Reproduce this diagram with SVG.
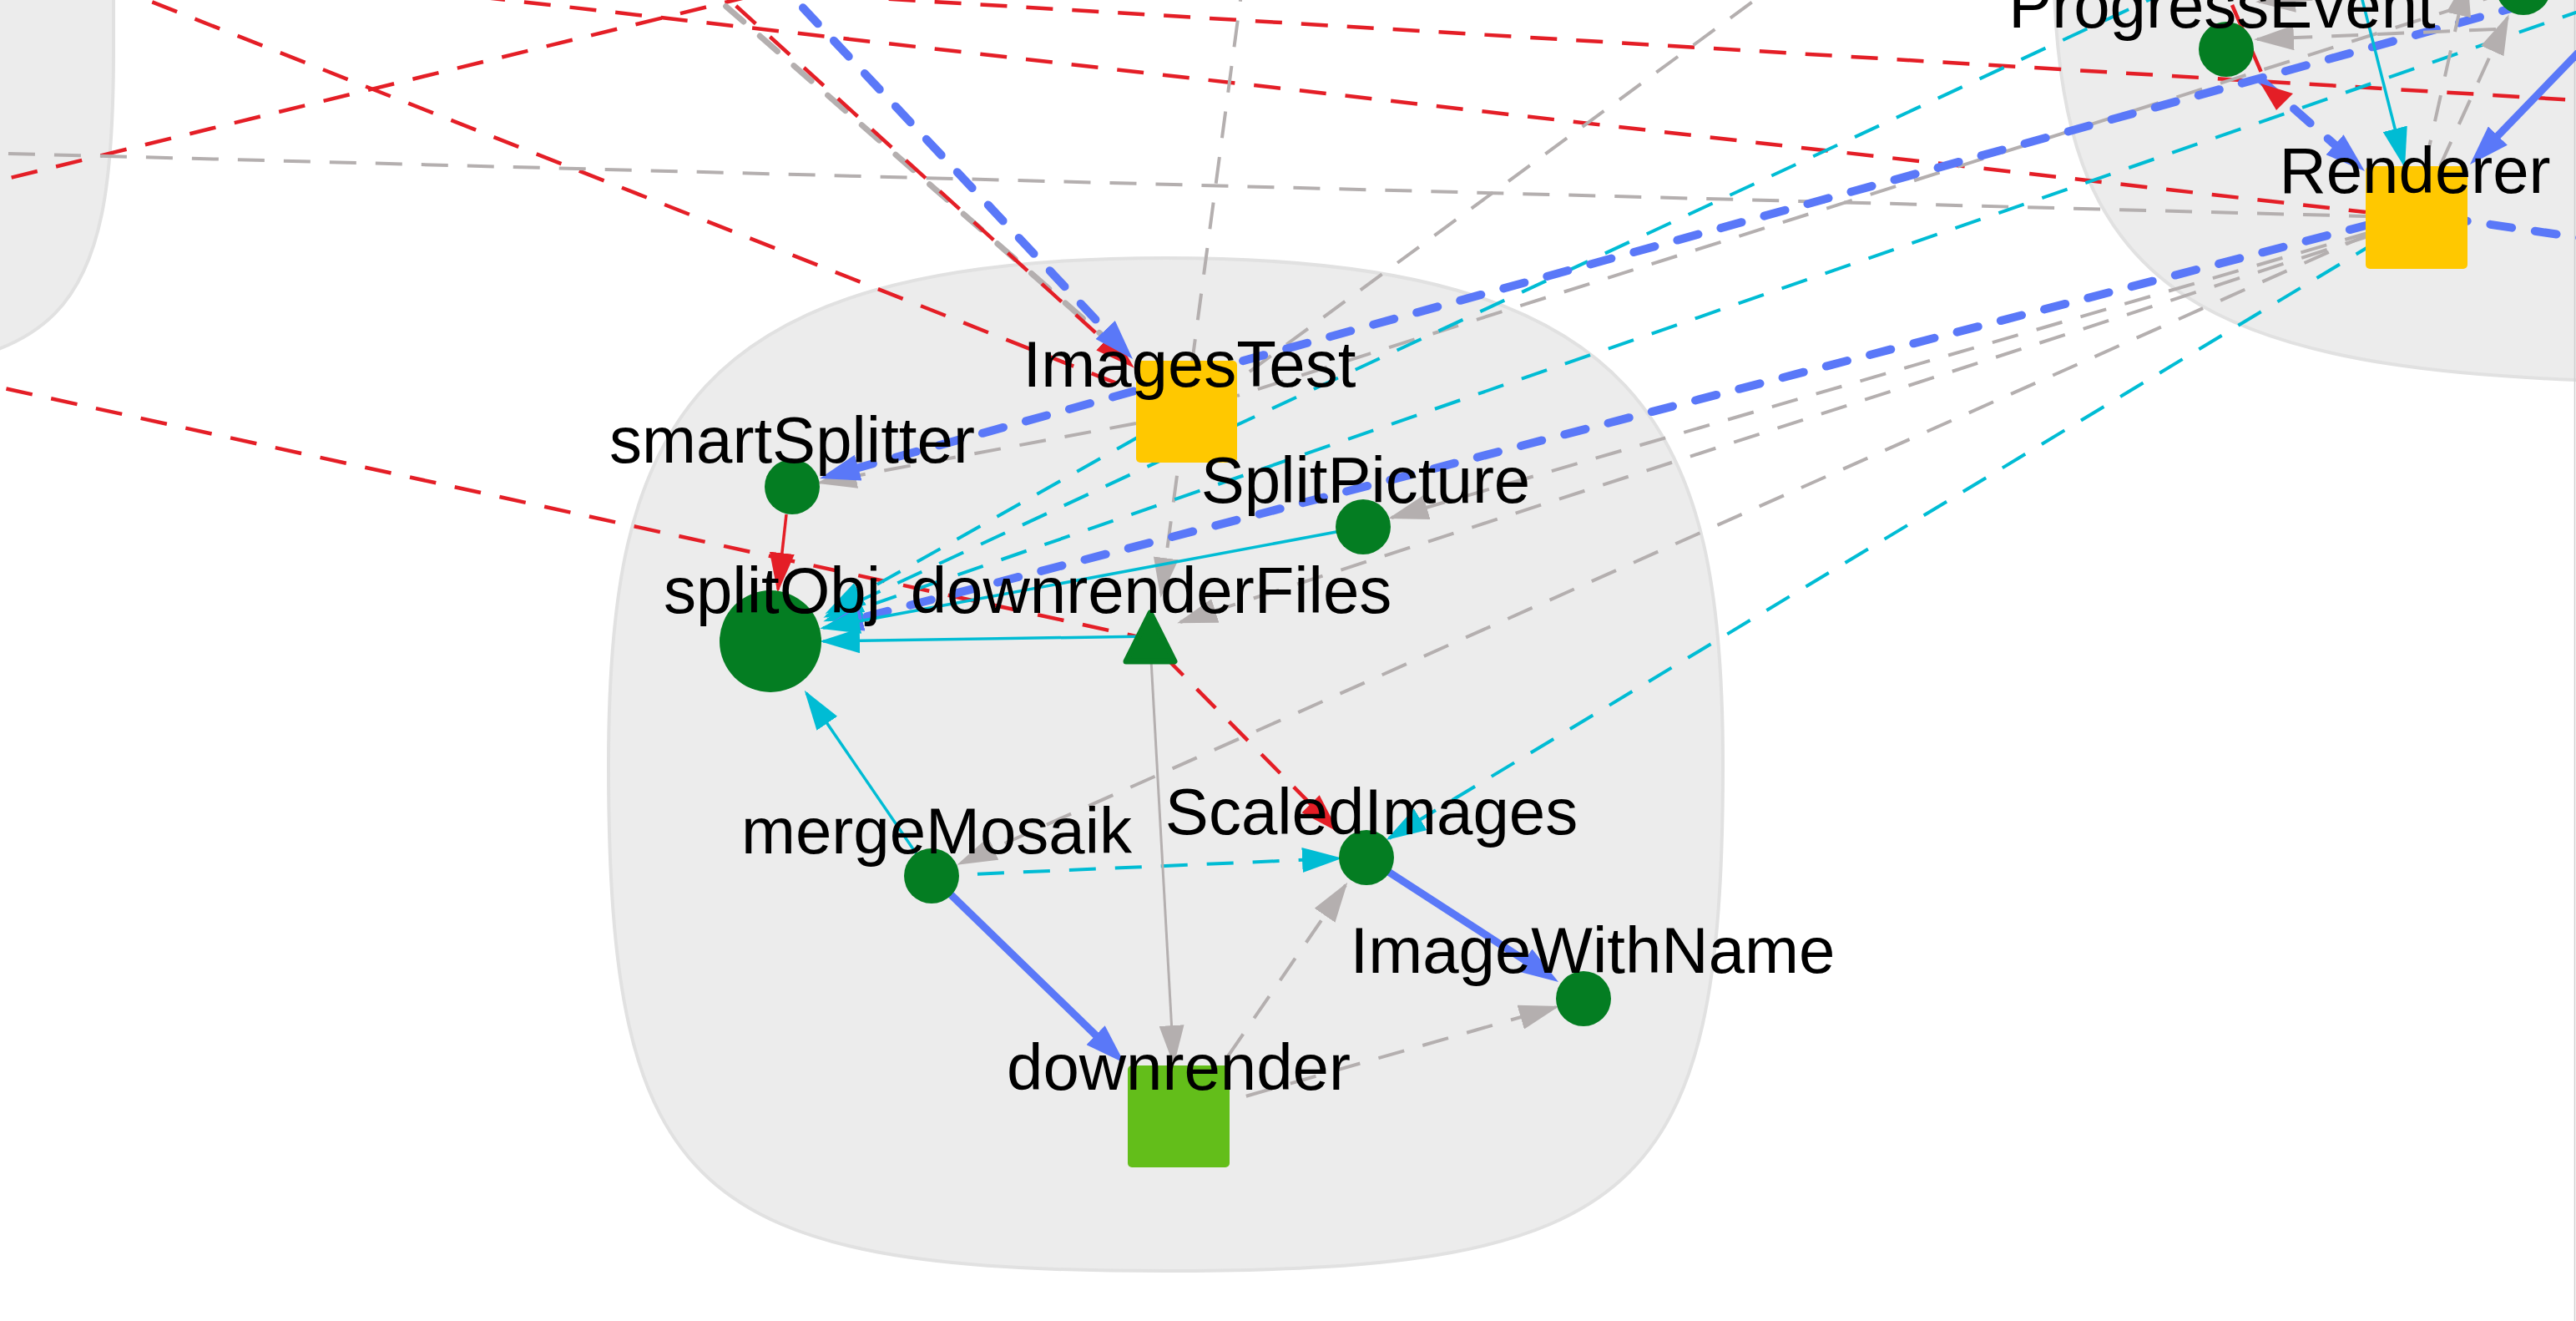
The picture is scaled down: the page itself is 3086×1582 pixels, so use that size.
<svg xmlns="http://www.w3.org/2000/svg" width="3086" height="1582" viewBox="0 0 3086 1582">
<defs>
<style>
.cl{fill:#ececec;stroke:#e1e1e1;stroke-width:4}
.e{fill:none}
.rd{stroke:#e41e26;stroke-width:4.5;stroke-dasharray:32 23}
.rs{stroke:#e41e26;stroke-width:3.5}
.gd{stroke:#b4afaf;stroke-width:4;stroke-dasharray:32 23}
.gs{stroke:#b4afaf;stroke-width:3}
.gt{stroke:#b4afaf;stroke-width:7;stroke-dasharray:28 26;stroke-linecap:round}
.cd{stroke:#00bcd4;stroke-width:4;stroke-dasharray:32 23}
.cs{stroke:#00bcd4;stroke-width:3.5}
.bd{stroke:#5a78f8;stroke-width:10;stroke-dasharray:26 28;stroke-linecap:round}
.bs{stroke:#5a78f8;stroke-width:9}
.g{fill:#047d22}
.lg{fill:#63be1a}
.y{fill:#ffc800}
text{font-family:"Liberation Sans",Arial,sans-serif;font-size:78px;fill:#000;text-anchor:middle}
</style>
<marker id="mr" viewBox="0 0 48 30" refX="44" refY="15" markerWidth="48" markerHeight="30" markerUnits="userSpaceOnUse" orient="auto"><path d="M0,0L48,15L0,30z" fill="#e41e26"/></marker>
<marker id="mg" viewBox="0 0 48 30" refX="44" refY="15" markerWidth="48" markerHeight="30" markerUnits="userSpaceOnUse" orient="auto"><path d="M0,0L48,15L0,30z" fill="#b4afaf"/></marker>
<marker id="mc" viewBox="0 0 48 30" refX="44" refY="15" markerWidth="48" markerHeight="30" markerUnits="userSpaceOnUse" orient="auto"><path d="M0,0L48,15L0,30z" fill="#00bcd4"/></marker>
<marker id="mb" viewBox="0 0 48 32" refX="30" refY="16" markerWidth="48" markerHeight="32" markerUnits="userSpaceOnUse" orient="auto"><path d="M0,0L48,16L0,32z" fill="#5a78f8"/></marker>
</defs>
<rect x="0" y="0" width="3086" height="1582" fill="#ffffff"/>
<g id="clusters">
<path class="cl" d="M136,-700 L136,60 C136,383 78,448 -250,448 L-700,448 L-700,-700 Z"/>
<path class="cl" d="M2064,915.5 C2064,1431 1963.9,1522 1396.5,1522 C829.1,1522 729,1431 729,915.5 C729,515.2 818.4,309 1396.5,309 C1974.6,309 2064,515.2 2064,915.5 Z"/>
<path class="cl" d="M2460,-700 L2460,-60 C2460,354.4 2618,458 3250,458 L3700,458 L3700,-700 Z"/>
<line x1="3084.5" y1="0" x2="3084.5" y2="1582" stroke="#cfcfcf" stroke-width="1.5"/>
</g>
<g id="edges">
<line class="e rd" x1="80" y1="-38" x2="1358" y2="467"/>
<line class="e rd" x1="-200" y1="265" x2="950" y2="-17"/>
<line class="e rd" x1="-100" y1="442" x2="1370" y2="764"/>
<line class="e rd" x1="300" y1="-35" x2="2834" y2="254"/>
<line class="e rd" x1="900" y1="-11" x2="3120" y2="122"/>
<line class="e gd" x1="-100" y1="181" x2="2834" y2="259"/>
<line class="e gt" x1="829" y1="-28" x2="1345" y2="423"/>
<line class="e rd" x1="841" y1="-30" x2="1356" y2="438" marker-end="url(#mr)"/>
<line class="e bd" x1="925" y1="-30" x2="1344.7" y2="416.9" marker-end="url(#mb)"/>
<line class="e gd" x1="1490" y1="-30" x2="1391" y2="712" marker-end="url(#mg)"/>
<line class="e gd" x1="2143" y1="-30" x2="1482" y2="456"/>
<line class="e gd" x1="3005" y1="-10" x2="1482" y2="474"/>
<line class="e gd" x1="1361" y1="507" x2="982" y2="578" marker-end="url(#mg)"/>
<line class="e cd" x1="1366" y1="522" x2="992" y2="733" marker-end="url(#mc)"/>
<line class="e cd" x1="2600" y1="-12" x2="990" y2="738" marker-end="url(#mc)"/>
<line class="e cd" x1="3100" y1="10" x2="990" y2="743" marker-end="url(#mc)"/>
<line class="e bd" x1="3023" y1="6" x2="999.3" y2="568.2" marker-end="url(#mb)"/>
<line class="e gd" x1="2840" y1="278" x2="1667" y2="620" marker-end="url(#mg)"/>
<line class="e gd" x1="2840" y1="282" x2="1414" y2="745" marker-end="url(#mg)"/>
<line class="e gd" x1="2840" y1="279.5" x2="1150" y2="1034" marker-end="url(#mg)"/>
<line class="e bd" x1="2840" y1="268.5" x2="1003.4" y2="747.5" marker-end="url(#mb)"/>
<line class="e cd" x1="2850" y1="288" x2="1664" y2="1004" marker-end="url(#mc)"/>
<line class="e bd" x1="2930" y1="261" x2="3120" y2="289"/>
<line class="e bd" x1="2667" y1="59" x2="2819.5" y2="193.1" marker-end="url(#mb)"/>
<line class="e bs" x1="3140" y1="10" x2="2971.5" y2="184.1" marker-end="url(#mb)"/>
<line class="e cs" x1="2825" y1="-20" x2="2880" y2="197" marker-end="url(#mc)"/>
<line class="e gd" x1="2923" y1="199" x2="3004" y2="21" marker-end="url(#mg)"/>
<line class="e gd" x1="2905" y1="199" x2="2955" y2="-25" marker-end="url(#mg)"/>
<line class="e gd" x1="2990" y1="35" x2="2704" y2="47" marker-end="url(#mg)"/>
<line class="e gd" x1="2990" y1="-12" x2="2706" y2="2" marker-end="url(#mg)"/>
<line class="e rd" x1="2674" y1="6" x2="2720" y2="112"/>
<polygon points="2708,100 2747,112 2727,132" fill="#e41e26"/>
<line class="e rs" x1="942" y1="616" x2="932" y2="706" marker-end="url(#mr)"/>
<line class="e cs" x1="1633" y1="631" x2="986" y2="752" marker-end="url(#mc)"/>
<line class="e cs" x1="1377" y1="762" x2="986" y2="768" marker-end="url(#mc)"/>
<line class="e cs" x1="1116" y1="1049" x2="966" y2="830" marker-end="url(#mc)"/>
<line class="e cd" x1="1116" y1="1049" x2="1604" y2="1028" marker-end="url(#mc)"/>
<line class="e rd" x1="1395" y1="786" x2="1601" y2="994" marker-end="url(#mr)"/>
<line class="e gs" x1="1379" y1="790" x2="1406" y2="1272" marker-end="url(#mg)"/>
<line class="e bs" x1="1116" y1="1049" x2="1334.1" y2="1260.5" marker-end="url(#mb)"/>
<line class="e bs" x1="1637" y1="1027" x2="1851.9" y2="1166.2" marker-end="url(#mb)"/>
<line class="e gd" x1="1440" y1="1310" x2="1612" y2="1060" marker-end="url(#mg)"/>
<line class="e gd" x1="1440" y1="1328" x2="1864" y2="1206" marker-end="url(#mg)"/>
</g>
<g id="nodes">
<g id="n-top"><circle class="g" cx="3023" cy="-15" r="33"/></g>
<g id="n-ProgressEvent"><circle class="g" cx="2667" cy="59" r="33"/><text x="2662" y="33">ProgressEvent</text></g>
<g id="n-Renderer"><rect class="y" x="2834" y="199" width="122" height="123" rx="5"/><text x="2893" y="231">Renderer</text></g>
<g id="n-ImagesTest"><rect class="y" x="1361" y="432" width="121" height="122" rx="5"/><text x="1425" y="463">ImagesTest</text></g>
<g id="n-smartSplitter"><circle class="g" cx="949" cy="583" r="33"/><text x="949" y="554">smartSplitter</text></g>
<g id="n-SplitPicture"><circle class="g" cx="1633" cy="631" r="33"/><text x="1636" y="602">SplitPicture</text></g>
<g id="n-splitObj"><circle class="g" cx="923" cy="768" r="61"/><text x="925" y="734">splitObj</text></g>
<g id="n-downrenderFiles"><polygon class="g" points="1378,734 1407,792 1349,792" stroke="#047d22" stroke-width="7" stroke-linejoin="round"/><text x="1379" y="734">downrenderFiles</text></g>
<g id="n-mergeMosaik"><circle class="g" cx="1116" cy="1049" r="33"/><text x="1122" y="1022">mergeMosaik</text></g>
<g id="n-ScaledImages"><circle class="g" cx="1637" cy="1027" r="33"/><text x="1643" y="999">ScaledImages</text></g>
<g id="n-ImageWithName"><circle class="g" cx="1897" cy="1196" r="33"/><text x="1908" y="1165">ImageWithName</text></g>
<g id="n-downrender"><rect class="lg" x="1351" y="1276" width="122" height="122" rx="5"/><text x="1412" y="1305">downrender</text></g>
</g>
</svg>
